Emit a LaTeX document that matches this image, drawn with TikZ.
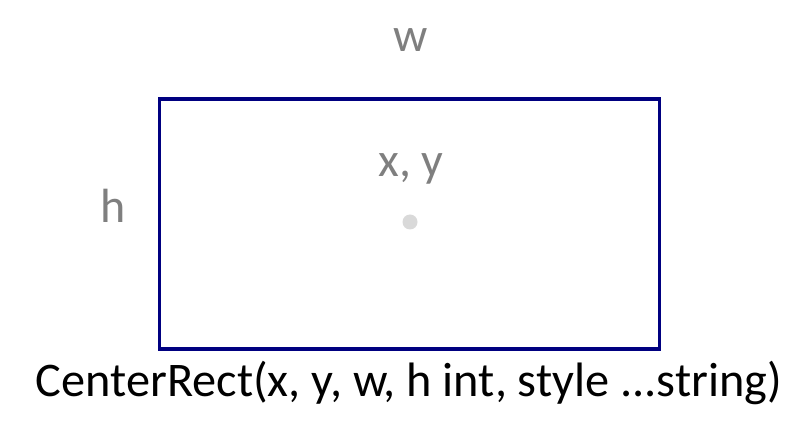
\documentclass[tikz,border=0pt]{standalone}
\usepackage{fontspec}
\setmainfont{Carlito}
\usetikzlibrary{positioning}
\definecolor{rectnavy}{HTML}{000080}
\definecolor{labelgray}{HTML}{7F7F7F}
\definecolor{dotgray}{HTML}{D9D9D9}

\begin{document}
\begin{tikzpicture}[
    x=1pt,y=-1pt,
    dimlabel/.style={text=labelgray,font=\fontsize{48}{52}\selectfont,inner sep=0pt,anchor=base},
    callnote/.style={text=black,font=\fontsize{48.3}{52}\selectfont,inner sep=0pt,anchor=base},
    box/.style={draw=rectnavy,line width=3.5pt,minimum width=500pt,minimum height=250pt,inner sep=0pt}
  ]
    \useasboundingbox (0,0) rectangle (785,427);
    \node[box] (rect) at (409.5,224) {};
    \node[circle,fill=dotgray,minimum size=15pt,inner sep=0pt] (center) at (410,222) {};
    \node[dimlabel] (xy) at (411,177) {x, y};
    \node[dimlabel] (w) at (411,52) {w};
    \node[dimlabel] (h) at (113.5,223) {h};
    \node[callnote] (call) at (409,397) {CenterRect(x, y, w, h int, style ...string)};
\end{tikzpicture}
\end{document}
